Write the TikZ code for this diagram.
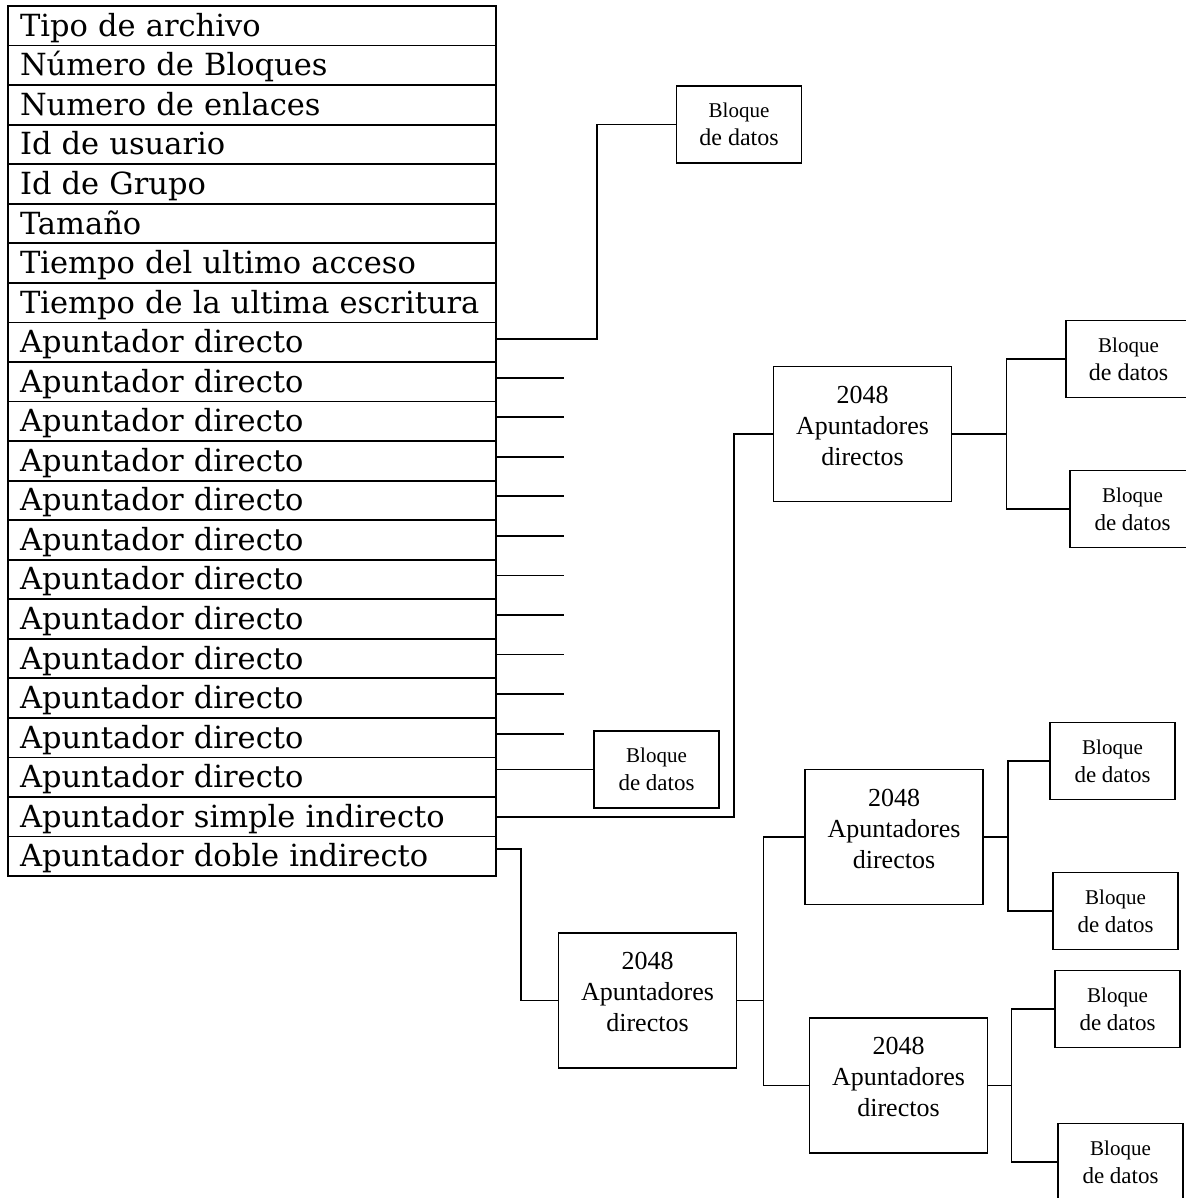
\documentclass[tikz,border=0pt]{standalone}
\usepackage{fontspec}
\setmainfont{Liberation Serif}
\newfontfamily\tablafont{DejaVu Serif}
\usetikzlibrary{calc}

\tikzset{
  campo/.style={draw, line width=1.8pt, minimum height=39.55pt, text width=464pt,
    inner xsep=12pt, inner ysep=0pt, align=left, text height=25pt, text depth=4pt,
    font={\tablafont\fontsize{30.5}{36}\selectfont}},
  bloque/.style={draw, line width=1.8pt, minimum width=125pt, minimum height=77pt,
    align=center, font={\fontsize{21}{28}\selectfont}},
  indice/.style={draw, line width=1.8pt, minimum width=178pt, minimum height=135pt,
    align=center, font={\fontsize{26}{31}\selectfont}},
  enlace/.style={line width=1.8pt}
}
\newcommand{\datos}[1][23]{{\fontsize{#1}{28}\selectfont de datos}}
\newcommand{\apuntadores}{2048\\Apuntadores\\directos\\[-14pt]\mbox{}}

\begin{document}
\begin{tikzpicture}[x=1pt, y=-1pt]
  \useasboundingbox (0,0) rectangle (1185,1198);

  % tabla del i-nodo
  \foreach \i/\t in {1/Tipo de archivo, 2/Número de Bloques, 3/Numero de enlaces,
                     4/Id de usuario, 5/Id de Grupo, 6/Tamaño,
                     7/Tiempo del ultimo acceso, 8/Tiempo de la ultima escritura,
                     21/Apuntador simple indirecto, 22/Apuntador doble indirecto} {
    \node[campo] (r\i) at (252,{6+39.55*(\i-0.5)}) {\t};
  }
  \foreach \i in {9,...,20} {
    \node[campo] (r\i) at (252,{6+39.55*(\i-0.5)}) {Apuntador directo};
  }

  % bloques y tablas de apuntadores
  \node[bloque] (T) at (739,124.5) {Bloque\\\datos[24]};
  \node[bloque] (BL) at (656.5,769.5) {Bloque\\\datos};
  \node[indice] (S) at (862.5,434) {\apuntadores};
  \node[bloque] (R1) at (1128.5,359) {Bloque\\\datos[24]};
  \node[bloque] (R2) at (1132.5,509) {Bloque\\\datos};
  \node[indice] (D) at (647.5,1000.5) {\apuntadores};
  \node[indice] (D1) at (894,837) {\apuntadores};
  \node[indice] (D2) at (898.5,1085.5) {\apuntadores};
  \node[bloque] (B11) at (1112.5,761) {Bloque\\\datos};
  \node[bloque] (B12) at (1115.5,911) {Bloque\\\datos};
  \node[bloque] (B21) at (1117.5,1009) {Bloque\\\datos};
  \node[bloque] (B22) at (1120.5,1162) {Bloque\\\datos};

  % enlaces
  \draw[enlace] ([yshift=3pt]r9.east) -- ++(100,0) |- (T.west);
  \foreach \i in {10,...,19} {
    \draw[enlace] ([yshift=4pt]r\i.east) -- ++(67,0);
  }
  \draw[enlace] (r20.east |- BL.west) -- (BL.west);
  \draw[enlace] (r21.east) -- ++(237,0) |- (S.west);
  \draw[enlace] ([yshift=7pt]r22.east) -- ++(24,0) |- (D.west);
  \draw[enlace] (S.east) -- ++(54,0) |- (R1.west);
  \draw[enlace] (S.east) -- ++(54,0) |- (R2.west);
  \draw[enlace] (D.east) -- ++(26,0) |- (D1.west);
  \draw[enlace] (D.east) -- ++(26,0) |- (D2.west);
  \draw[enlace] (D1.east) -- ++(24,0) |- (B11.west);
  \draw[enlace] (D1.east) -- ++(24,0) |- (B12.west);
  \draw[enlace] (D2.east) -- ++(23,0) |- (B21.west);
  \draw[enlace] (D2.east) -- ++(23,0) |- (B22.west);
\end{tikzpicture}
\end{document}
